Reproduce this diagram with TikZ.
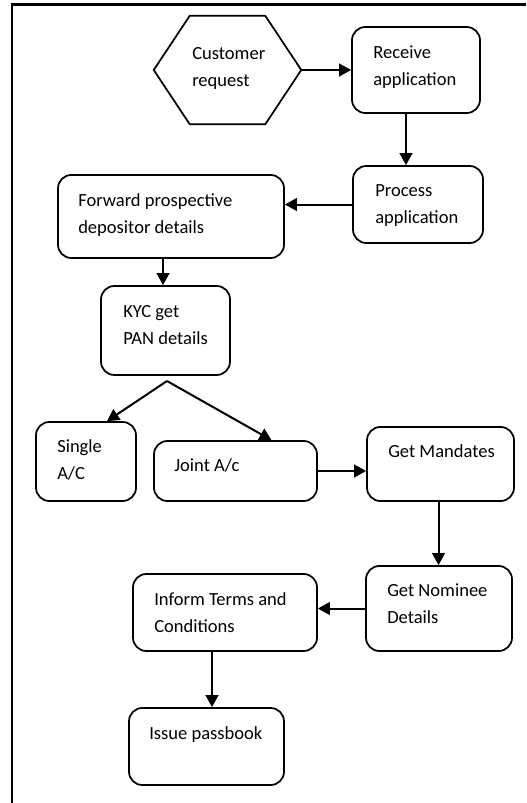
\documentclass[tikz,border=0pt]{standalone}
\usepackage{fontspec}
\setmainfont{Carlito}
\usetikzlibrary{arrows.meta,calc}
\begin{document}
\begin{tikzpicture}[x=0.75pt,y=-0.75pt,
  box/.style={draw,line width=1.3pt,rounded corners=10pt,inner sep=0pt},
  txt/.style={anchor=base west,inner sep=0pt,align=left,font=\fontsize{13.9}{20}\selectfont},
  arr/.style={line width=1.5pt,-{Triangle[length=9pt,width=9.5pt]}},
  ln/.style={line width=1.5pt}]
\useasboundingbox (0,0) rectangle (526,803);
\draw[line width=1.7pt] (12,803) -- (12,4.5) -- (526,4.5);
% hexagon
\node[minimum width=110.25pt,minimum height=81pt,inner sep=0pt] (hex) at (227.5,70) {};
\draw[line width=1.3pt] (hex.west) -- ([xshift=27pt]hex.north west) -- ([xshift=-27pt]hex.north east) -- (hex.east) -- ([xshift=-27pt]hex.south east) -- ([xshift=27pt]hex.south west) -- cycle;
\node[txt] (thex) at (192,86) {Customer\\request};
% boxes
\node[box,minimum width=96pt,minimum height=64.5pt] (recv) at (416,70) {};
\node[txt] (trecv) at (373,85) {Receive\\application};
\node[box,minimum width=97.5pt,minimum height=57.75pt] (proc) at (418,204.5) {};
\node[txt] (tproc) at (375,223) {Process\\application};
\node[box,minimum width=169.5pt,minimum height=62.25pt] (fwd) at (171,216.5) {};
\node[txt] (tfwd) at (78,233) {Forward prospective\\depositor details};
\node[box,minimum width=96.75pt,minimum height=66.75pt] (kyc) at (165.5,330.5) {};
\node[txt] (tkyc) at (123,344) {KYC get\\PAN details};
\node[box,minimum width=75pt,minimum height=59.25pt] (single) at (86,461.5) {};
\node[txt] (tsingle) at (57,479) {Single\\A/C};
\node[box,minimum width=122.25pt,minimum height=45pt] (joint) at (235.5,471) {};
\node[txt] (tjoint) at (174,471) {Joint A/c};
\node[box,minimum width=110.25pt,minimum height=55.5pt] (mand) at (440.5,464) {};
\node[txt] (tmand) at (388,457) {Get Mandates};
\node[box,minimum width=109.5pt,minimum height=63.75pt] (nom) at (439,608.5) {};
\node[txt] (tnom) at (387,623) {Get Nominee\\Details};
\node[box,minimum width=138pt,minimum height=57.75pt] (inform) at (225,612.5) {};
\node[txt] (tinform) at (154,632) {Inform Terms and\\Conditions};
\node[box,minimum width=116.25pt,minimum height=57.75pt] (issue) at (206.5,746.5) {};
\node[txt] (tissue) at (149,739) {Issue passbook};
% connectors
\draw[arr] (hex.east) -- (recv.west |- hex.east);
\draw[arr] ([xshift=-7.5pt]recv.south) -- ([xshift=-7.5pt]recv.south |- proc.north);
\draw[arr] (proc.west) -- (fwd.east |- proc.west);
\draw[arr] ([xshift=-6pt]fwd.south) -- ([xshift=-6pt]fwd.south |- kyc.north);
\coordinate (apex) at (167,381);
\draw[arr] (apex) -- ([xshift=15.75pt]single.north);
\draw[arr] (apex) -- ([xshift=27pt]joint.north);
\draw[arr] (joint.east) -- (mand.west |- joint.east);
\draw[arr] ([xshift=-1.5pt]mand.south) -- ([xshift=-1.5pt]mand.south |- nom.north);
\draw[arr] (nom.west) -- (inform.east |- nom.west);
\draw[arr] ([xshift=-9.75pt]inform.south) -- ([xshift=-9.75pt]inform.south |- issue.north);
\end{tikzpicture}
\end{document}
